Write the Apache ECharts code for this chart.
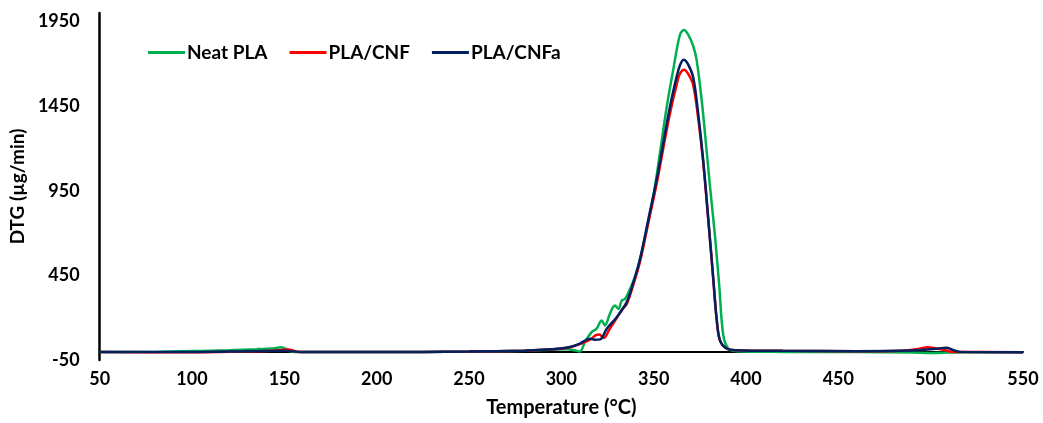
<!DOCTYPE html>
<html>
<head>
<meta charset="utf-8">
<script src="https://cdn.jsdelivr.net/npm/echarts@6/dist/echarts.min.js"></script>
<style>
  html, body { margin: 0; padding: 0; background: #fff; }
  #dtgChart { width: 1043px; height: 423px; }
</style>
</head>
<body>
<div id="dtgChart"></div>
<script>
// 数据
const seriesNames = ['Neat PLA', 'PLA/CNF', 'PLA/CNFa']
const seriesColors = ['#00b050', '#ff0000', '#002060']
const yTicks = [-50, 450, 950, 1450, 1950]

const tempNeat = [50, 80, 110, 120, 135, 145, 148, 151, 155, 200, 250, 280, 295, 303, 307, 310, 312.8, 316.4, 319.1, 321.8, 323.6, 326.3, 329, 330.9, 332.7, 334.5, 337.2, 340.8, 342.6, 346.2, 349.8, 353.4, 357, 360.6, 364.2, 366.4, 368.7, 371.4, 373.3, 376, 378, 380.5, 383.2, 385.5, 387.7, 390.4, 395, 420, 460, 490, 500, 510, 520, 550]
const dtgNeat = [-3, -2, 5, 8, 14, 20, 25, 15, -3, -3, 0, 5, 10, 14, 8, 0, 57, 115, 135, 184, 154, 223, 272, 252, 301, 311, 370, 468, 546, 722, 917, 1172, 1440, 1665, 1870, 1900, 1872, 1805, 1720, 1485, 1265, 976, 683, 389, 96, 18, 2, -2, -3, -6, -8, -6, -4, -4]

const tempCnf = [50, 100, 130, 145, 152, 158, 200, 250, 280, 290, 299.3, 304.7, 310, 315.5, 318.5, 320.5, 323, 326, 331, 333, 335.4, 339, 342.6, 347.1, 351.6, 355.2, 358.8, 362.4, 364.2, 366.5, 368.7, 371.4, 374.1, 376.8, 379.6, 382.3, 384.1, 385.9, 389.5, 395, 420, 460, 485, 493, 498.4, 503, 508, 512, 550]
const dtgCnf = [-3, -4, 0, 6, 12, -3, -3, 0, 5, 10, 16, 25, 44, 70, 95, 100, 80, 130, 215, 250, 280, 395, 530, 760, 990, 1200, 1405, 1575, 1641, 1665, 1640, 1575, 1380, 1120, 775, 425, 192, 66, 18, 8, 4, 2, 5, 15, 25, 18, 8, -2, -4]

const tempCnfa = [50, 100, 130, 150, 160, 200, 250, 280, 290, 299.3, 304.7, 310, 315.5, 318, 321, 324.6, 330, 335.4, 339, 342.6, 347.1, 351.6, 355.2, 358.8, 362.4, 364.2, 366.2, 368.5, 371.4, 374.1, 376.8, 379.6, 382.3, 384.1, 385.9, 389.5, 395, 420, 460, 490, 498, 504, 508.5, 512, 516, 550]
const dtgCnfa = [-3, -3, 2, 5, -3, -3, 0, 5, 10, 18, 27, 47, 76, 70, 72, 135, 203, 292, 409, 546, 780, 1015, 1231, 1445, 1621, 1690, 1724, 1700, 1621, 1407, 1133, 780, 428, 194, 66, 18, 8, 4, 2, 6, 12, 18, 23, 10, -2, -4]

const font = 'Lato, "Liberation Sans", sans-serif'
const zip = (xs, ys) => xs.map((x, i) => [x, ys[i]])
const seriesData = [zip(tempNeat, dtgNeat), zip(tempCnf, dtgCnf), zip(tempCnfa, dtgCnfa)]

const myChart = echarts.init(document.getElementById('dtgChart'))

const chartOption = {
  animation: false,
  textStyle: { fontFamily: font },
  legend: {
    show: true,
    left: 143,
    top: 38,
    icon: 'rect',
    itemWidth: 37,
    itemHeight: 3,
    itemGap: 22,
    data: seriesNames,
    textStyle: { color: '#000', fontWeight: 'bold', fontSize: 19, fontFamily: font, padding: [0, 0, 0, -3] }
  },
  grid: {
    left: 99,
    right: 20,
    top: 13,
    bottom: 60
  },
  xAxis: [
    {
      type: 'value',
      min: 50,
      max: 550,
      interval: 50,
      name: 'Temperature (°C)',
      nameLocation: 'middle',
      nameGap: 38,
      nameTextStyle: { color: '#000', fontWeight: 'bold', fontSize: 20, fontFamily: font },
      axisLine: { show: false, onZero: false },
      axisTick: { show: false },
      splitLine: { show: false },
      axisLabel: { color: '#000', fontWeight: 'bold', fontSize: 18, margin: 10, fontFamily: font }
    },
    {
      // 零线
      type: 'value',
      min: 50,
      max: 550,
      axisLine: { show: true, onZero: true, lineStyle: { color: '#000', width: 2 } },
      axisTick: { show: false },
      axisLabel: { show: false },
      splitLine: { show: false }
    }
  ],
  yAxis: {
    type: 'value',
    min: yTicks[0],
    max: 2000,
    interval: 500,
    name: 'DTG (µg/min)',
    nameLocation: 'middle',
    nameGap: 70,
    nameTextStyle: { color: '#000', fontWeight: 'bold', fontSize: 19, fontFamily: font },
    axisLine: { show: true, lineStyle: { color: '#000', width: 2.5 } },
    axisTick: { show: false },
    splitLine: { show: false },
    axisLabel: {
      color: '#000',
      fontWeight: 'bold',
      fontSize: 18,
      margin: 20,
      fontFamily: font,
      showMaxLabel: false,
      formatter: (v) => (yTicks.includes(v) ? String(v) : '')
    }
  },
  series: seriesNames.map((name, i) => ({
    name: name,
    type: 'line',
    xAxisIndex: 0,
    data: seriesData[i],
    symbol: 'none',
    smooth: 0.35,
    color: seriesColors[i],
    lineStyle: { color: seriesColors[i], width: 2.5 }
  }))
}

myChart.setOption(chartOption, true)
</script>
</body>
</html>
